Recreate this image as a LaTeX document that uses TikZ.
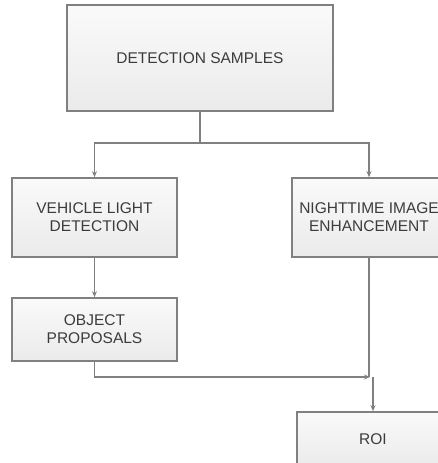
\documentclass[tikz,border=0pt]{standalone}
\usepackage{fontspec}
\setmainfont{Liberation Sans}
\usetikzlibrary{positioning,calc,arrows.meta}

\definecolor{boxline}{HTML}{808080}
\definecolor{boxtext}{HTML}{3C3C3C}

\tikzset{
    stepbox/.style={draw=boxline, line width=1.6pt, top color=white!98!black,
        bottom color=white!92!black, text=boxtext, align=center,
        inner sep=0pt, font=\fontsize{15.5}{18}\selectfont},
    link/.style={draw=boxline, line width=1.3pt},
    linkarrow/.style={link, -{Stealth[length=6pt,width=5pt]}}
}

\begin{document}
\begin{tikzpicture}[x=1pt,y=1pt]
    % 画布大小
    \useasboundingbox (0,0) rectangle (438,463);
    \clip (0,0) rectangle (438,463);

    % 方框
    \node[stepbox, minimum width=266pt, minimum height=106pt] (samples) at (200,405) {DETECTION SAMPLES};
    \node[stepbox, minimum width=165pt, minimum height=79pt] (vld) at (94.5,245.5) {VEHICLE LIGHT\\DETECTION};
    \node[stepbox, minimum width=154pt, minimum height=79pt] (nie) at (369,245.5) {NIGHTTIME IMAGE\\ENHANCEMENT};
    \node[stepbox, minimum width=165pt, minimum height=63pt] (obj) at (94.5,133.5) {OBJECT\\PROPOSALS};
    \node[stepbox, minimum width=152pt, minimum height=54pt] (roi) at (373,24) {ROI};

    % 分叉点和汇合点
    \coordinate (split) at (200,320);
    \coordinate (merge) at (370,86);

    % 上方的分叉
    \draw[link] (samples.south) -- (split);
    \draw[linkarrow] (split) -| (vld.north);
    \draw[linkarrow] (split) -| (nie.north);

    % 左侧
    \draw[linkarrow] (vld.south) -- (obj.north);
    \draw[linkarrow] (obj.south) |- (merge);

    % 右侧汇合到 ROI
    \draw[link] (nie.south) -- (nie.south |- merge);
    \draw[linkarrow] (roi.north |- merge) -- (roi.north);
\end{tikzpicture}
\end{document}
